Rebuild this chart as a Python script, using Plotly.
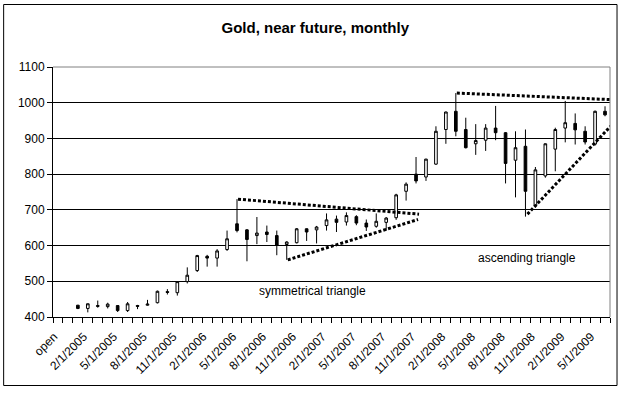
import plotly.graph_objects as go

# ---------------- data ----------------
categories = [
    "open", "12/1/2004",
    "1/1/2005", "2/1/2005", "3/1/2005", "4/1/2005", "5/1/2005", "6/1/2005",
    "7/1/2005", "8/1/2005", "9/1/2005", "10/1/2005", "11/1/2005", "12/1/2005",
    "1/1/2006", "2/1/2006", "3/1/2006", "4/1/2006", "5/1/2006", "6/1/2006",
    "7/1/2006", "8/1/2006", "9/1/2006", "10/1/2006", "11/1/2006", "12/1/2006",
    "1/1/2007", "2/1/2007", "3/1/2007", "4/1/2007", "5/1/2007", "6/1/2007",
    "7/1/2007", "8/1/2007", "9/1/2007", "10/1/2007", "11/1/2007", "12/1/2007",
    "1/1/2008", "2/1/2008", "3/1/2008", "4/1/2008", "5/1/2008", "6/1/2008",
    "7/1/2008", "8/1/2008", "9/1/2008", "10/1/2008", "11/1/2008", "12/1/2008",
    "1/1/2009", "2/1/2009", "3/1/2009", "4/1/2009", "5/1/2009", "6/1/2009",
]
dates = categories[2:]

opens = [433, 424, 432, 429, 432, 418, 432, 433, 440, 471, 468, 499,
         530, 570, 565, 589, 661, 644, 628, 638, 628, 603, 608, 647,
         644, 656, 674, 666, 681, 663, 654, 665, 678, 752, 800, 792,
         828, 925, 976, 925, 885, 895, 929, 916, 839, 878, 712, 795,
         870, 929, 942, 920, 884, 976]
highs = [434, 438, 446, 440, 433, 442, 434, 448, 474, 478, 500, 539,
         574, 574, 590, 642, 730, 646, 680, 656, 642, 612, 649, 648,
         655, 690, 684, 693, 685, 673, 690, 680, 745, 777, 848, 843,
         934, 975, 1027, 958, 940, 940, 991, 918, 920, 925, 820, 886,
         930, 1005, 970, 934, 978, 990]
lows = [422, 413, 426, 424, 414, 414, 422, 432, 438, 463, 460, 494,
        526, 541, 541, 585, 637, 556, 604, 610, 573, 560, 606, 613,
        606, 642, 638, 656, 657, 641, 650, 642, 672, 726, 774, 781,
        826, 885, 906, 872, 854, 865, 895, 774, 735, 681, 707, 790,
        808, 889, 883, 883, 880, 962]
closes = [424, 437, 430, 436, 418, 437, 430, 436, 472, 469, 499, 517,
          572, 565, 585, 619, 642, 617, 635, 631, 601, 610, 647, 638,
          652, 672, 665, 684, 663, 652, 668, 677, 742, 772, 781, 842,
          920, 974, 920, 874, 894, 929, 916, 830, 874, 752, 812, 885,
          925, 944, 924, 890, 976, 966]

y_ticks = [400, 500, 600, 700, 800, 900, 1000, 1100]
label_step = 3

# triangle trend lines: (x index, value) start and end
sym_upper = [(18.1, 730), (36.3, 688)]
sym_lower = [(23.1, 560), (36.2, 673)]
asc_upper = [(40.1, 1027), (56.2, 1008)]
asc_lower = [(47.2, 688), (56.2, 953)]

notes_text = ["symmetrical triangle", "ascending triangle"]
notes_x = [25.6, 47.15]
notes_y = [473, 565]

title_text = "Gold, near future, monthly"

# ---------------- figure ----------------
FONT = "Arial, 'Liberation Sans', sans-serif"

fig = go.Figure()
fig.add_trace(go.Candlestick(
    x=dates, open=opens, high=highs, low=lows, close=closes,
    increasing=dict(line=dict(color="black", width=1), fillcolor="white"),
    decreasing=dict(line=dict(color="black", width=1), fillcolor="black"),
    whiskerwidth=0,
    showlegend=False,
    hoverinfo="skip",
))

ticktext = [c if i % label_step == 0 else "" for i, c in enumerate(categories)]

shapes = []
for seg in (sym_upper, sym_lower, asc_upper, asc_lower):
    (x0, y0), (x1, y1) = seg
    shapes.append(dict(type="line", xref="x", yref="y", x0=x0, y0=y0, x1=x1, y1=y1,
                       line=dict(color="black", width=3, dash="3px,2px"), layer="above"))
# gray top/right plot-area border
shapes.append(dict(type="line", xref="paper", yref="paper", x0=0, y0=1, x1=1, y1=1,
                   line=dict(color="#808080", width=1), layer="above"))
shapes.append(dict(type="line", xref="paper", yref="paper", x0=1, y0=0, x1=1, y1=1,
                   line=dict(color="#808080", width=1), layer="above"))
# outer chart frame
shapes.append(dict(type="rect", xref="paper", yref="paper",
                   x0=-0.0886, y0=-0.274, x1=1.0126, y1=1.250,
                   line=dict(color="black", width=1), fillcolor="rgba(0,0,0,0)", layer="above"))

annotations = [dict(x=x, y=y, xref="x", yref="y", text=t, showarrow=False,
                    font=dict(family=FONT, size=12, color="black"))
               for t, x, y in zip(notes_text, notes_x, notes_y)]

fig.update_layout(
    width=623, height=393,
    margin=dict(l=53, r=13, t=67, b=76, pad=0, autoexpand=False),
    paper_bgcolor="white", plot_bgcolor="white",
    boxgap=0.62,
    showlegend=False,
    shapes=shapes,
    annotations=annotations,
    title=dict(text="<b>" + title_text + "</b>", x=0.506, xref="container",
               y=1 - 28 / 393, yref="container", xanchor="center", yanchor="middle",
               font=dict(family=FONT, size=15, color="black")),
    font=dict(family=FONT, size=12, color="black"),
    xaxis=dict(
        type="category", categoryorder="array", categoryarray=categories,
        range=[-0.5, len(categories) - 0.5],
        tickmode="array", tickvals=categories, ticktext=ticktext,
        tickson="boundaries", ticks="outside", ticklen=5, tickcolor="black",
        tickangle=-45, tickfont=dict(family=FONT, size=12, color="black"),
        ticklabelshift=-4, ticklabelstandoff=7,
        showgrid=False, showline=True, linecolor="black", linewidth=1,
        rangeslider=dict(visible=False), fixedrange=True, automargin=False,
    ),
    yaxis=dict(
        range=[400, 1100], tickvals=y_ticks,
        ticks="outside", ticklen=5, tickcolor="black",
        tickfont=dict(family=FONT, size=12, color="black"),
        showgrid=True, gridcolor="black", gridwidth=1,
        showline=True, linecolor="black", linewidth=1,
        zeroline=False, fixedrange=True, automargin=False,
    ),
)

fig.write_html("out.html", config={"displayModeBar": False},
               post_script="document.body.style.margin='0';")
